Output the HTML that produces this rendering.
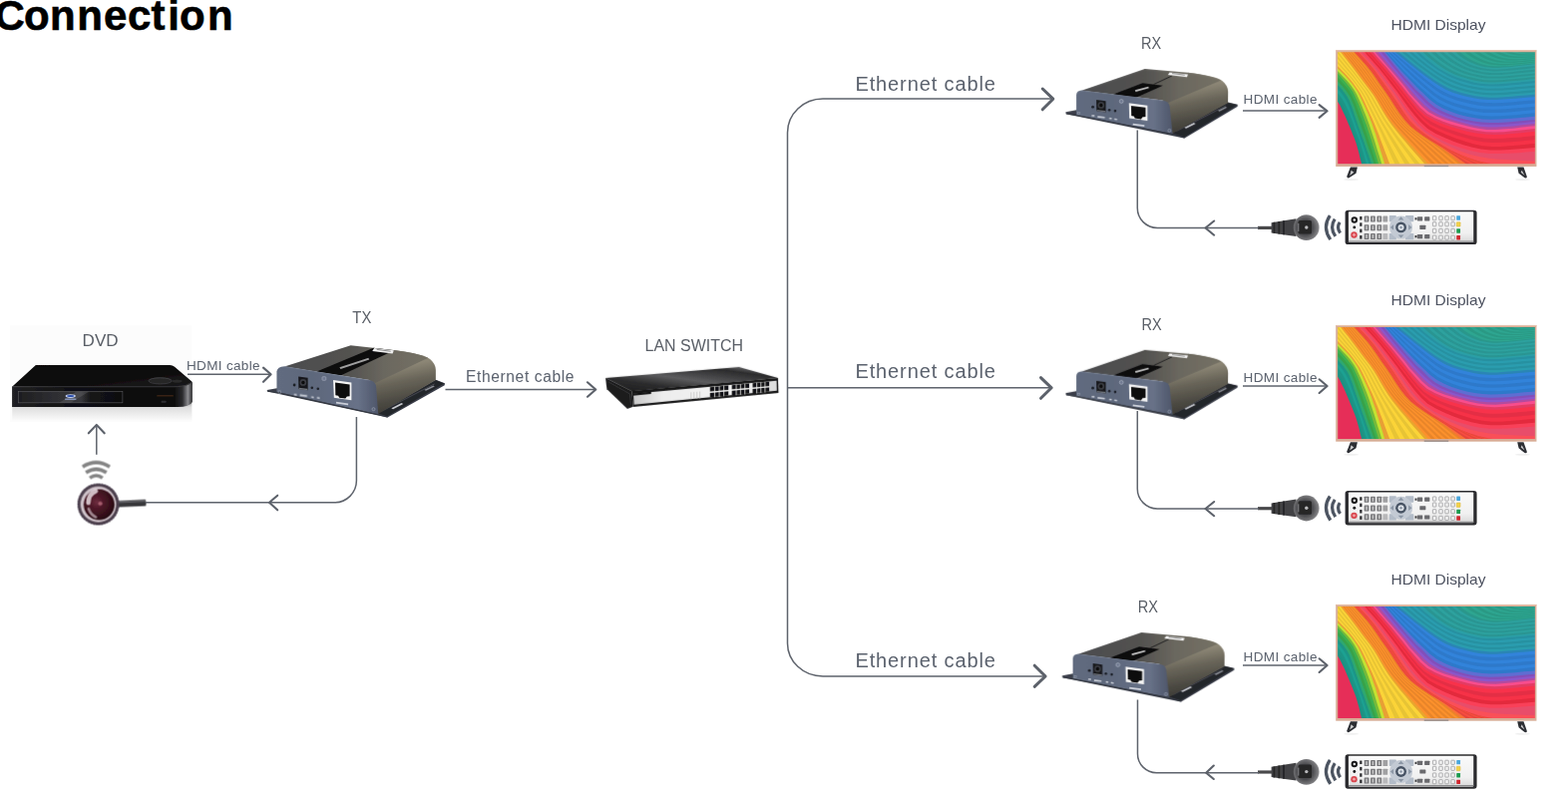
<!DOCTYPE html>
<html lang="en">
<head>
<meta charset="utf-8">
<title>Connection</title>
<style>
html,body{margin:0;padding:0;background:#fff;overflow:hidden}
body{width:1572px;height:800px;position:relative;font-family:"Liberation Sans",sans-serif}
svg{position:absolute;left:0;top:0;display:block}
.lbl{font-family:"Liberation Sans",sans-serif;fill:#5b626e}
.lbl.d{fill:#595e66}
.lbl.e{fill:#4d5260}
.ttl{font-family:"Liberation Sans",sans-serif;font-weight:bold;fill:#000}
.ln{fill:none;stroke:#5e636c;stroke-width:1.5;stroke-linecap:butt;stroke-linejoin:round}
.ah{fill:none;stroke:#5c616a;stroke-width:2.1;stroke-linecap:round;stroke-linejoin:round}
.ah2{fill:none;stroke:#5c616a;stroke-width:3;stroke-linecap:round;stroke-linejoin:round}
</style>
</head>
<body>
<svg width="1572" height="800" viewBox="0 0 1572 800">
<defs>
<!-- ===== TV (local coords = px of 5.714x zoom; origin 1335,45) ===== -->
<linearGradient id="tvTeal" x1="0" y1="0" x2="0.35" y2="1">
  <stop offset="0" stop-color="#3cbfa2"/><stop offset="0.45" stop-color="#2cb1ab"/><stop offset="0.8" stop-color="#22a0b4"/><stop offset="1" stop-color="#1f8fbf"/>
</linearGradient>
<linearGradient id="tvBlue" x1="0" y1="0" x2="1" y2="0.6">
  <stop offset="0" stop-color="#2a55c8"/><stop offset="0.4" stop-color="#2a78d2"/><stop offset="1" stop-color="#2f93dc"/>
</linearGradient>
<linearGradient id="tvMag" x1="0" y1="0" x2="1" y2="0.5">
  <stop offset="0" stop-color="#d9307a"/><stop offset="0.45" stop-color="#b044b0"/><stop offset="1" stop-color="#9a58c4"/>
</linearGradient>
<linearGradient id="tvRed" x1="0" y1="0" x2="1" y2="1">
  <stop offset="0" stop-color="#ef3038"/><stop offset="0.45" stop-color="#f03352"/><stop offset="1" stop-color="#f4506f"/>
</linearGradient>
<linearGradient id="tvOr" x1="0" y1="0" x2="0.6" y2="1">
  <stop offset="0" stop-color="#f36a24"/><stop offset="0.5" stop-color="#f68a20"/><stop offset="1" stop-color="#f37422"/>
</linearGradient>
<linearGradient id="tvYl" x1="0" y1="0" x2="0.6" y2="1">
  <stop offset="0" stop-color="#f2b632"/><stop offset="0.5" stop-color="#f0cf30"/><stop offset="1" stop-color="#f3c22c"/>
</linearGradient>
<filter id="tvSoft" x="-5%" y="-5%" width="110%" height="110%"><feGaussianBlur stdDeviation="3"/></filter>
<clipPath id="tvClip"><rect x="35" y="42" width="1130" height="639"/></clipPath>
<g id="tv">
  <g transform="translate(1335 45) scale(0.175)">
    <!-- feet -->
    <path d="M108 700L88 752Q86 766 100 762L140 735L148 700Z" fill="#2c2e33"/>
    <path d="M112 718L104 748L128 730Z" fill="#fff" opacity=".75"/>
    <path d="M1064 700L1072 735L1106 762Q1122 766 1118 752L1100 700Z" fill="#2c2e33"/>
    <path d="M1090 718L1084 730L1106 748Z" fill="#fff" opacity=".75"/>
    <ellipse cx="112" cy="772" rx="42" ry="6" fill="#000" opacity=".06"/>
    <ellipse cx="1094" cy="772" rx="42" ry="6" fill="#000" opacity=".06"/>
    <!-- frame -->
    <rect x="24" y="30" width="1150" height="667" fill="#d8ad96"/>
    <rect x="24" y="30" width="1150" height="6" fill="#e6c0aa"/>
    <rect x="530" y="690" width="140" height="8" fill="#9a8f8c"/>
    <!-- screen -->
    <g clip-path="url(#tvClip)">
      <g filter="url(#tvSoft)">
      <rect x="35" y="42" width="1130" height="643" fill="#e62e58"/>
      <path d="M-40 240L-24 257L-8 274L7 290L22 308L36 327L48 346L58 367L68 388L78 409L87 430L96 451L105 473L114 494L122 515L131 537L139 559L146 581L152 603L158 625L163 648L169 670L174 693L179 715L185 738L190 760L1260 800L1260 -50L-60 -50Z" fill="#1c9183"/>
      <path d="M-40 218L-24 235L-7 253L10 270L26 289L41 308L54 328L66 349L76 371L86 393L95 415L105 437L113 460L122 483L131 505L140 528L148 550L155 573L162 597L169 620L175 643L182 666L188 690L194 713L200 737L206 760L1260 800L1260 -50L-60 -50Z" fill="#1d9586"/>
      <path d="M-40 195L-23 214L-5 232L12 250L29 269L45 288L60 309L73 331L84 353L94 376L104 400L113 423L122 447L130 471L139 495L148 518L157 542L165 566L172 590L180 614L187 639L194 663L202 687L209 711L216 736L222 760L1260 800L1260 -50L-60 -50Z" fill="#1fa192"/>
      <path d="M-40 172L-22 192L-4 211L14 230L32 250L50 269L66 290L80 312L93 336L103 360L112 385L121 410L130 434L139 459L148 484L157 509L165 534L174 559L183 584L191 609L199 634L207 659L216 684L224 709L231 735L239 760L1260 800L1260 -50L-60 -50Z" fill="#1d9586"/>
      <path d="M-40 150L-21 170L-2 190L17 210L35 230L54 250L72 271L88 294L101 318L111 344L121 369L129 396L138 422L147 448L156 474L165 500L174 526L184 552L193 578L202 604L211 629L220 655L229 681L238 708L247 734L255 760L1260 800L1260 -50L-60 -50Z" fill="#2ea870"/>
      <path d="M-40 128L-20 149L-1 170L19 191L38 212L58 233L76 254L93 277L108 302L119 328L130 354L139 381L149 408L158 435L168 462L177 489L187 516L196 543L205 570L214 597L224 624L233 651L242 678L251 705L259 733L267 760L1260 800L1260 -50L-60 -50Z" fill="#38a249"/>
      <path d="M-40 107L-20 128L1 150L21 171L41 193L61 215L81 237L99 260L115 285L127 312L139 339L149 367L159 395L170 422L180 450L189 478L199 506L208 534L218 562L227 590L236 619L245 647L254 675L263 703L272 732L280 760L1260 800L1260 -50L-60 -50Z" fill="#3cb04f"/>
      <path d="M-40 85L-19 107L2 130L23 152L44 174L65 197L85 220L104 244L122 268L135 296L148 324L159 352L170 381L181 410L191 438L202 467L211 496L221 526L230 555L239 584L248 613L257 642L266 672L275 701L284 730L292 760L1260 800L1260 -50L-60 -50Z" fill="#76b93b"/>
      <path d="M-40 70L-18 93L3 116L25 139L46 162L68 184L90 207L110 232L128 257L144 284L157 313L170 342L182 371L194 400L205 429L216 459L226 489L236 519L246 549L255 579L264 609L274 639L283 669L292 699L300 730L308 760L1260 800L1260 -50L-60 -50Z" fill="#c4e230"/>
      <path d="M-40 55L-18 79L4 102L26 126L49 149L72 172L94 195L115 220L134 246L152 273L166 302L180 331L194 361L207 390L219 420L231 451L241 481L252 512L261 543L271 574L280 604L290 635L299 666L308 697L317 729L325 760L1260 800L1260 -50L-60 -50Z" fill="#e89f34"/>
      <path d="M-35 44L-13 69L9 94L32 119L55 143L78 166L101 191L122 217L141 244L160 271L176 301L190 330L204 361L218 391L232 421L245 452L257 482L270 513L281 544L293 575L304 606L316 637L327 667L339 698L350 729L361 760L1260 800L1260 -50L-60 -50Z" fill="#fbd438"/>
      <path d="M-30 34L-8 60L15 86L38 111L61 136L84 161L107 187L128 213L149 241L168 269L185 299L200 330L215 360L230 391L245 422L259 453L274 484L288 514L301 545L315 576L329 607L342 638L356 668L369 699L383 730L396 760L1260 800L1260 -50L-60 -50Z" fill="#e7c434"/>
      <path d="M-25 23L-2 50L20 77L43 104L66 130L90 156L113 183L135 210L156 239L176 267L194 297L210 329L226 360L242 392L258 423L274 454L290 485L305 516L321 547L337 577L353 608L368 639L384 669L400 700L416 730L432 760L1260 800L1260 -50L-60 -50Z" fill="#fbd438"/>
      <path d="M-20 12L3 41L25 69L49 96L72 124L96 151L119 178L142 207L163 236L185 265L203 296L220 328L237 360L254 392L271 424L288 455L306 486L323 517L341 548L359 579L377 609L395 640L412 670L430 701L449 731L468 760L1260 800L1260 -50L-60 -50Z" fill="#e7c434"/>
      <path d="M-15 2L8 31L31 60L54 89L78 117L102 146L126 174L148 204L171 234L193 263L213 294L230 327L248 360L265 393L283 425L302 457L322 488L341 519L361 549L381 580L401 611L421 641L441 671L461 702L482 731L503 760L1260 800L1260 -50L-60 -50Z" fill="#fbd438"/>
      <path d="M-10 -9L13 22L36 52L60 82L84 111L108 140L132 170L155 200L178 231L201 261L222 293L240 326L259 360L277 393L296 426L317 458L338 489L359 520L381 551L403 581L425 612L447 642L469 672L492 702L515 731L539 760L1260 800L1260 -50L-60 -50Z" fill="#e7c434"/>
      <path d="M-5 -19L18 12L41 43L65 74L90 105L114 135L138 166L162 197L185 229L209 259L231 291L251 325L269 359L289 393L309 427L331 459L354 490L377 521L401 552L425 583L449 613L473 643L498 673L522 703L548 732L574 760L1260 800L1260 -50L-60 -50Z" fill="#fbd438"/>
      <path d="M0 -30L23 3L47 35L71 67L96 98L120 130L144 162L168 194L192 226L217 258L240 290L261 324L280 359L301 394L322 427L345 460L370 492L395 523L421 553L447 584L473 614L500 644L526 674L553 704L581 732L610 760L1260 800L1260 -50Z" fill="#e8a52f"/>
      <path d="M7 -30L30 3L54 36L79 68L105 100L130 132L154 164L178 197L203 230L227 262L251 295L272 330L292 365L313 400L336 433L361 465L387 496L413 527L440 557L467 587L495 618L522 648L549 677L577 707L607 735L636 763L1260 800L1260 -50Z" fill="#fc912d"/>
      <path d="M13 -30L37 3L62 37L88 69L114 101L139 134L164 167L188 200L213 233L238 266L262 300L283 335L304 371L326 406L350 439L376 470L404 501L432 531L460 561L488 591L516 621L544 651L573 681L602 710L632 738L663 765L1260 800L1260 -50Z" fill="#e88529"/>
      <path d="M20 -30L45 4L70 37L96 70L123 102L149 135L174 169L198 203L223 237L248 270L272 305L294 341L316 377L339 411L365 444L392 475L421 505L450 535L479 565L508 595L537 625L567 654L596 684L627 713L658 740L689 768L1260 800L1260 -50Z" fill="#fc912d"/>
      <path d="M26 -30L52 4L77 38L105 71L132 104L158 137L184 171L208 206L234 241L259 275L283 310L305 346L328 382L352 417L379 450L407 481L437 510L468 539L498 568L529 598L559 628L589 658L620 687L651 715L683 743L715 771L1260 800L1260 -50Z" fill="#e88529"/>
      <path d="M33 -30L59 5L85 39L113 72L141 105L168 139L193 174L218 209L244 244L269 279L293 315L316 352L339 388L365 423L393 455L423 486L454 515L486 543L518 572L549 602L580 632L611 661L643 690L676 718L709 746L742 774L1260 800L1260 -50Z" fill="#fc912d"/>
      <path d="M39 -30L66 5L93 40L121 73L150 106L177 141L203 176L228 212L254 248L280 283L304 320L327 357L351 394L377 429L407 461L438 491L471 519L504 547L537 576L569 605L601 635L634 665L667 693L700 721L734 748L768 776L1260 800L1260 -50Z" fill="#e88529"/>
      <path d="M46 -30L73 5L101 40L130 74L159 108L187 143L213 179L238 215L264 251L290 288L315 325L338 363L363 400L390 435L421 467L454 496L488 524L522 551L556 580L590 609L623 639L656 668L690 696L725 724L760 751L795 779L1260 800L1260 -50Z" fill="#fc912d"/>
      <path d="M52 -30L80 6L108 41L138 75L168 109L196 144L223 181L248 218L275 255L301 292L325 330L349 368L375 406L403 441L435 472L469 501L505 528L541 555L576 583L610 613L644 642L678 672L714 699L749 727L786 754L821 782L1260 800L1260 -50Z" fill="#e88529"/>
      <path d="M59 -30L87 6L116 42L146 76L177 110L206 146L232 184L258 221L285 259L311 296L336 335L360 374L387 411L416 447L449 478L485 506L522 533L559 559L595 587L630 616L665 646L701 675L737 703L774 729L811 756L847 785L1260 800L1260 -50Z" fill="#fc912d"/>
      <path d="M65 -30L94 7L124 43L155 77L186 112L215 148L242 186L268 224L295 262L322 301L347 340L371 379L398 417L429 453L463 483L500 511L539 538L577 563L615 591L651 620L687 649L723 678L761 706L799 732L837 759L874 787L1260 800L1260 -50Z" fill="#e88529"/>
      <path d="M72 -30L101 7L131 43L163 78L195 113L225 150L252 188L278 227L306 266L332 305L357 345L383 385L410 423L441 458L477 489L516 516L555 542L595 568L634 594L671 623L708 653L745 682L784 709L823 735L862 762L900 790L1260 800L1260 -50Z" fill="#fa6f37"/>
      <path d="M75 -30L104 8L135 45L168 81L200 117L230 154L258 194L285 234L313 273L340 313L366 354L393 394L422 432L455 467L493 497L532 525L573 551L614 576L655 601L694 629L733 656L772 683L813 708L854 733L894 758L934 784L1260 800L1260 -50Z" fill="#e4473c"/>
      <path d="M77 -30L108 9L139 47L172 83L205 120L236 159L264 199L292 240L321 280L348 321L375 362L404 402L435 440L469 475L508 506L549 533L591 559L633 583L675 608L717 634L757 660L799 685L841 708L884 731L927 754L968 779L1260 800L1260 -50Z" fill="#f84d40"/>
      <path d="M80 -30L111 10L143 49L177 86L210 123L242 163L271 204L299 246L328 287L356 329L384 371L414 411L447 449L483 483L523 514L565 542L608 567L652 591L696 615L739 639L782 663L825 686L869 708L914 729L959 750L1002 774L1260 800L1260 -50Z" fill="#e4473c"/>
      <path d="M82 -30L114 11L147 50L182 88L216 127L247 167L277 209L306 252L336 294L364 337L393 379L424 420L459 457L497 492L538 522L581 550L626 576L671 599L717 622L762 645L807 667L852 688L898 708L944 727L991 746L1036 768L1260 800L1260 -50Z" fill="#f84d40"/>
      <path d="M85 -30L117 12L151 52L186 91L221 130L253 172L283 215L313 258L343 301L372 345L402 388L435 429L471 466L511 500L553 531L598 559L644 584L690 607L738 629L784 650L831 670L878 689L926 707L975 725L1023 742L1070 762L1260 800L1260 -50Z" fill="#e4473c"/>
      <path d="M88 -30L120 12L155 54L191 93L226 134L259 176L290 220L320 264L350 308L380 353L411 397L445 438L484 474L525 508L569 539L614 567L661 593L709 615L758 636L807 655L856 674L905 691L955 707L1005 722L1055 739L1104 757L1260 800L1260 -50Z" fill="#f84d40"/>
      <path d="M90 -30L124 13L159 55L196 96L231 137L264 181L296 225L327 270L358 315L388 361L420 405L456 446L496 483L539 516L584 547L631 575L679 601L728 623L779 643L830 661L881 677L932 692L983 707L1035 720L1087 735L1138 752L1260 800L1260 -50Z" fill="#e4473c"/>
      <path d="M93 -30L127 14L162 57L200 98L236 140L270 185L302 231L334 276L365 322L397 369L429 414L466 455L508 492L553 525L599 555L647 584L696 610L748 631L800 650L852 666L905 681L958 694L1012 706L1066 718L1119 731L1172 746L1260 800L1260 -50Z" fill="#f84d40"/>
      <path d="M95 -30L130 15L166 59L205 101L242 144L276 189L308 236L341 282L373 329L405 377L438 422L477 464L520 500L567 533L614 564L663 592L714 618L767 639L820 657L875 671L930 684L985 696L1040 706L1096 716L1151 727L1206 740L1260 800L1260 -50Z" fill="#e4473c"/>
      <path d="M98 -30L133 16L170 60L210 103L247 147L281 194L315 241L348 288L380 336L413 385L447 431L487 473L533 509L580 541L629 572L680 601L732 626L786 647L841 664L898 677L954 688L1012 697L1069 706L1126 714L1183 723L1240 735L1260 -50Z" fill="#fa5059"/>
      <path d="M110 -30L144 15L181 59L219 101L256 144L290 190L324 236L358 282L390 329L421 376L455 422L494 464L537 501L584 532L633 561L684 586L736 608L790 627L845 640L901 650L958 656L1014 659L1071 662L1127 664L1184 667L1240 670L1260 -50Z" fill="#e84d6a"/>
      <path d="M122 -30L156 14L191 58L229 99L265 141L300 186L333 230L367 275L399 321L430 367L463 412L500 454L541 493L587 524L637 549L688 572L741 590L795 606L849 617L905 623L961 623L1017 621L1073 618L1128 613L1184 610L1240 606L1260 -50Z" fill="#f94059"/>
      <path d="M134 -30L167 14L202 56L239 97L275 139L309 182L342 225L376 269L408 314L440 358L474 402L510 443L550 480L597 508L647 532L698 553L750 571L802 586L856 597L911 603L966 603L1021 600L1076 596L1130 591L1185 587L1240 583L1260 -50Z" fill="#e32a3c"/>
      <path d="M146 -30L179 13L213 55L249 95L285 136L318 178L352 220L384 263L417 306L450 349L484 391L519 432L560 467L608 493L657 514L707 534L759 551L810 567L863 578L917 583L971 583L1025 579L1079 574L1132 569L1186 564L1240 560L1260 -50Z" fill="#f63046"/>
      <path d="M154 -30L186 12L220 54L255 93L290 133L324 175L357 216L390 258L423 300L455 343L489 384L525 422L567 455L615 478L664 499L714 517L765 532L816 546L868 556L922 560L975 559L1028 556L1081 551L1134 546L1187 541L1240 537L1260 -50Z" fill="#e42f45"/>
      <path d="M162 -30L194 12L227 52L262 92L296 131L330 172L363 213L395 254L428 295L460 336L494 376L531 413L575 442L622 464L671 483L721 499L771 514L822 526L874 534L926 537L979 536L1031 532L1083 528L1135 523L1188 518L1240 513L1260 -50Z" fill="#f8334b"/>
      <path d="M170 -30L201 11L234 51L268 90L302 129L335 169L368 209L401 249L433 289L465 330L498 369L537 403L582 429L629 450L678 467L727 482L777 495L828 505L879 512L931 514L983 513L1034 509L1086 504L1137 499L1189 495L1240 490L1260 -50Z" fill="#e43b64"/>
      <path d="M181 -30L212 10L245 50L278 88L312 126L345 165L377 204L410 244L441 284L474 322L508 360L547 394L591 419L638 439L686 455L735 469L784 482L834 492L885 498L936 500L987 498L1037 493L1088 488L1139 483L1189 478L1240 472L1260 -50Z" fill="#f84d8d"/>
      <path d="M192 -30L223 9L255 48L288 86L321 124L354 162L387 200L419 238L449 278L484 315L518 351L556 384L600 409L646 427L694 442L743 456L791 469L840 479L890 485L940 486L990 482L1040 478L1090 472L1140 466L1190 461L1240 455L1260 -50Z" fill="#b34b9e"/>
      <path d="M209 -30L240 9L271 47L303 85L334 122L367 160L399 197L431 234L462 272L496 308L530 343L568 375L611 399L657 418L703 433L751 446L799 458L847 467L896 472L946 472L995 469L1044 465L1093 459L1142 454L1191 449L1240 443L1260 -50Z" fill="#8c56ca"/>
      <path d="M226 -30L256 8L286 46L317 83L348 121L379 157L411 194L443 230L475 266L509 301L543 335L580 366L622 390L667 409L713 424L759 437L807 447L854 455L903 459L951 459L999 456L1047 452L1096 447L1144 442L1192 437L1240 432L1260 -50Z" fill="#8250ba"/>
      <path d="M243 -30L272 7L302 44L331 82L361 119L392 155L423 191L455 226L487 261L522 293L555 327L592 357L634 380L677 399L722 415L768 427L814 437L861 443L909 446L956 445L1004 443L1051 439L1098 434L1146 430L1193 426L1240 420L1260 -50Z" fill="#5f6dd2"/>
      <path d="M248 -30L278 6L308 42L338 77L368 113L399 148L431 182L463 216L496 250L530 281L564 314L600 342L642 365L685 383L729 398L774 410L820 419L867 425L913 427L960 426L1007 423L1054 420L1100 415L1147 411L1194 407L1240 401L1260 -50Z" fill="#2d79ca"/>
      <path d="M253 -30L283 4L314 39L344 73L375 107L406 141L438 174L471 206L504 239L538 269L572 300L609 328L650 349L692 366L736 381L781 392L826 401L872 406L918 408L964 407L1010 404L1056 401L1102 396L1148 392L1194 388L1240 383L1260 -50Z" fill="#3183da"/>
      <path d="M258 -30L289 3L320 36L351 69L382 101L414 134L446 165L479 197L512 228L546 257L580 287L617 313L658 333L700 350L743 363L788 374L832 383L877 388L923 389L968 388L1014 385L1059 381L1104 377L1150 373L1195 369L1240 364L1260 -50Z" fill="#2d79ca"/>
      <path d="M262 -30L294 1L326 33L357 64L389 96L421 127L454 157L487 187L520 217L554 245L589 274L626 298L666 318L708 334L751 346L794 357L838 365L883 369L928 370L972 369L1017 366L1062 362L1106 358L1151 354L1195 351L1240 346L1260 -50Z" fill="#3183da"/>
      <path d="M267 -30L299 0L332 30L364 60L396 90L428 119L461 148L494 177L528 206L562 233L597 260L634 284L674 302L715 317L758 329L801 339L844 347L888 351L932 351L976 350L1020 347L1064 343L1108 339L1152 335L1196 332L1240 327L1260 -50Z" fill="#2d79ca"/>
      <path d="M272 -30L305 -2L338 27L370 55L403 84L435 112L469 140L502 167L536 195L570 221L605 247L643 269L682 287L723 301L765 312L807 322L850 329L894 332L937 333L980 331L1024 328L1067 324L1110 320L1154 317L1197 313L1240 309L1260 -50Z" fill="#3183da"/>
      <path d="M277 -30L310 -3L343 24L377 51L410 78L443 105L476 132L510 158L544 184L578 209L614 233L651 254L690 271L731 284L772 295L814 304L856 311L899 314L942 314L984 312L1027 309L1070 305L1112 301L1155 298L1197 294L1240 290L1260 -50Z" fill="#2b85b5"/>
      <path d="M300 -30L332 -3L364 24L396 51L428 77L460 104L493 130L526 155L559 180L593 204L628 226L665 246L703 262L743 274L784 284L824 293L866 298L907 301L949 301L991 298L1032 295L1074 292L1115 288L1157 284L1199 281L1240 277L1260 -50Z" fill="#2c9daf"/>
      <path d="M324 -30L354 -3L384 24L415 51L446 77L477 103L509 128L542 152L574 176L608 199L643 220L679 238L717 253L756 264L795 274L835 281L875 286L916 288L956 287L997 285L1038 282L1078 278L1119 275L1159 271L1200 268L1240 264L1260 -50Z" fill="#2891a1"/>
      <path d="M347 -30L376 -3L404 24L434 50L464 76L494 101L526 126L557 149L590 172L623 193L657 213L693 230L730 243L768 254L806 263L845 270L885 274L924 275L964 274L1003 272L1043 269L1082 265L1122 261L1161 258L1201 255L1240 251L1260 -50Z" fill="#2c9daf"/>
      <path d="M370 -30L397 -3L425 24L453 50L482 76L512 100L542 124L573 146L605 168L638 188L672 206L707 221L743 234L780 244L818 253L856 258L894 262L933 262L971 261L1010 258L1048 255L1086 252L1125 248L1163 245L1202 241L1240 237L1260 -50Z" fill="#2891a1"/>
      <path d="M393 -30L419 -3L445 24L472 50L500 75L529 99L558 122L589 144L620 164L653 183L686 199L721 213L756 225L793 234L829 242L866 247L904 250L941 249L979 248L1016 245L1053 242L1091 238L1128 235L1165 231L1203 228L1240 224L1260 -50Z" fill="#2c9daf"/>
      <path d="M417 -30L441 -3L465 24L491 50L518 74L546 98L575 120L605 141L636 160L667 178L701 193L735 205L770 215L805 225L841 231L877 236L913 237L950 237L986 235L1022 232L1059 228L1095 225L1131 221L1167 218L1204 215L1240 211L1260 -50Z" fill="#2891a1"/>
      <path d="M440 -30L463 -3L485 24L510 50L536 74L563 96L591 118L620 138L651 156L682 172L715 186L749 197L783 206L817 215L852 221L887 224L923 225L958 224L993 221L1029 218L1064 215L1099 212L1134 208L1170 205L1205 202L1240 198L1260 -50Z" fill="#2c9fa6"/>
      <path d="M462 -30L485 -4L507 22L530 47L556 71L582 92L609 113L638 133L667 150L698 166L730 178L763 189L796 198L829 205L863 211L898 214L932 214L966 213L1000 210L1035 207L1069 204L1103 201L1137 197L1172 194L1206 191L1240 188L1260 -50Z" fill="#299592"/>
      <path d="M484 -30L506 -5L528 20L551 45L575 67L601 89L628 109L655 127L684 144L714 159L745 171L777 181L809 189L842 196L875 201L908 203L941 203L974 202L1008 199L1041 196L1074 193L1107 190L1140 186L1174 183L1207 180L1240 177L1260 -50Z" fill="#2da19e"/>
      <path d="M507 -30L528 -6L549 19L571 42L595 64L620 85L646 104L673 122L701 138L730 152L760 164L791 173L822 180L854 187L886 191L918 192L950 192L983 191L1015 188L1047 185L1079 182L1111 179L1143 175L1176 173L1208 170L1240 167L1260 -50Z" fill="#299592"/>
      <path d="M529 -30L550 -7L571 17L592 39L615 61L639 81L664 100L690 117L717 132L746 145L775 156L805 165L835 172L866 177L897 181L928 182L960 182L991 180L1022 177L1053 174L1084 171L1115 168L1146 165L1178 162L1209 159L1240 157L1260 -50Z" fill="#2da19e"/>
      <path d="M551 -30L572 -8L592 15L613 37L635 57L658 77L682 95L708 111L734 126L761 139L790 149L819 157L849 163L878 168L908 171L939 171L969 171L999 169L1029 166L1059 163L1089 160L1119 157L1150 154L1180 151L1210 149L1240 146L1260 -50Z" fill="#299592"/>
      <path d="M573 -30L593 -9L613 13L633 34L654 54L677 73L700 90L725 106L751 120L777 132L805 142L833 149L862 155L891 159L920 161L949 161L978 160L1007 158L1036 155L1065 152L1094 149L1123 146L1153 143L1182 140L1211 138L1240 136L1260 -50Z" fill="#2da19e"/>
      <path d="M596 -30L615 -10L634 11L654 31L674 51L696 69L718 86L742 100L767 114L793 125L820 134L847 141L875 146L903 149L931 151L959 150L987 149L1015 147L1043 144L1071 141L1099 138L1128 135L1156 132L1184 130L1212 128L1240 126L1260 -50Z" fill="#299592"/>
      <path d="M618 -30L637 -11L656 9L674 29L694 48L714 65L736 81L760 95L784 108L809 118L835 127L861 133L888 137L915 140L942 141L969 140L996 138L1023 136L1051 133L1078 130L1105 127L1132 124L1159 121L1186 119L1213 117L1240 115L1260 -50Z" fill="#2da19e"/>
      <path d="M640 -30L659 -12L677 7L695 26L714 44L733 61L755 77L777 90L801 102L825 112L850 120L875 125L901 129L927 131L953 131L980 129L1006 127L1032 125L1058 122L1084 119L1110 116L1136 113L1162 110L1188 108L1214 107L1240 105L1260 -50Z" fill="#2a978b"/>
      <path d="M666 -30L684 -13L701 5L719 23L737 41L755 57L776 72L797 84L820 95L843 105L867 113L891 118L916 122L941 123L966 123L991 122L1016 121L1041 118L1066 116L1090 113L1115 110L1140 107L1165 105L1190 103L1215 101L1240 100L1260 -50Z" fill="#2ea590"/>
      <path d="M691 -30L709 -14L726 3L742 20L759 37L778 53L797 66L818 78L839 89L861 98L884 106L907 111L931 114L954 116L978 116L1002 115L1026 114L1050 112L1074 110L1097 107L1121 104L1145 102L1169 99L1192 97L1216 96L1240 94L1260 -50Z" fill="#2a9984"/>
      <path d="M717 -30L734 -15L750 2L766 18L782 33L800 48L818 61L838 73L858 83L879 92L901 99L923 104L945 107L968 109L991 109L1013 109L1036 107L1059 105L1081 103L1104 101L1127 99L1149 96L1172 94L1195 92L1217 90L1240 89L1260 -50Z" fill="#2ea590"/>
      <path d="M743 -30L759 -15L774 0L789 15L805 30L822 44L839 56L858 67L877 77L897 85L918 92L939 97L960 100L982 102L1003 102L1025 102L1046 101L1068 99L1089 97L1111 95L1132 93L1154 90L1175 88L1197 86L1218 85L1240 84L1260 -50Z" fill="#2a9984"/>
      <path d="M769 -30L784 -16L798 -2L813 12L828 26L844 39L860 51L878 61L896 71L915 79L935 85L955 90L975 93L995 95L1016 95L1036 95L1056 94L1077 93L1097 91L1118 89L1138 87L1158 85L1179 83L1199 81L1220 80L1240 78L1260 -50Z" fill="#2ea590"/>
      <path d="M794 -30L809 -17L823 -4L837 9L851 22L866 35L882 46L898 56L916 64L933 72L952 78L970 83L990 86L1009 88L1028 88L1047 88L1067 87L1086 86L1105 85L1124 83L1144 81L1163 79L1182 77L1201 76L1221 74L1240 73L1260 -50Z" fill="#2a9984"/>
      <path d="M820 -30L834 -18L847 -6L860 7L874 19L888 30L903 41L918 50L935 58L951 65L969 71L986 75L1004 78L1022 80L1040 81L1059 81L1077 81L1095 80L1113 79L1131 77L1149 75L1167 74L1186 72L1204 70L1222 69L1240 68L1260 -50Z" fill="#2ea590"/>
      <path d="M846 -30L859 -19L871 -8L884 4L897 15L910 26L924 36L939 44L954 52L969 59L986 64L1002 68L1019 71L1036 73L1053 74L1070 74L1087 74L1104 73L1121 72L1138 71L1155 70L1172 68L1189 66L1206 65L1223 63L1240 62L1260 -50Z" fill="#2a9984"/>
      <path d="M871 -30L884 -20L896 -9L907 1L920 11L932 21L945 30L959 38L973 46L988 52L1003 57L1018 61L1034 64L1050 66L1065 67L1081 67L1097 67L1113 67L1129 66L1145 65L1161 64L1176 62L1192 61L1208 59L1224 58L1240 57L1260 -50Z" fill="#2ea590"/>
      <path d="M897 -30L909 -21L920 -11L931 -2L942 8L954 17L966 25L979 33L992 40L1006 46L1020 50L1034 54L1048 57L1063 59L1078 60L1093 60L1107 60L1122 60L1137 60L1152 59L1166 58L1181 57L1196 55L1210 54L1225 52L1240 51L1260 -50Z" fill="#2a9984"/>
      <path d="M923 -30L934 -22L944 -13L955 -4L965 4L976 12L987 20L999 27L1011 33L1024 39L1037 43L1050 47L1063 50L1077 52L1090 53L1104 53L1117 54L1131 54L1145 54L1158 53L1172 52L1186 51L1199 50L1213 48L1226 47L1240 46L1260 -50Z" fill="#2ea590"/>
      <path d="M949 -30L959 -23L968 -15L978 -7L988 0L998 8L1009 15L1019 21L1030 27L1042 32L1054 37L1066 40L1078 43L1090 44L1103 46L1115 47L1128 47L1140 47L1153 48L1165 47L1178 46L1190 45L1203 44L1215 43L1228 42L1240 41L1260 -50Z" fill="#2a9984"/>
      <path d="M974 -30L984 -24L993 -17L1002 -10L1011 -3L1020 3L1030 10L1039 16L1050 21L1060 26L1071 30L1082 33L1093 35L1104 37L1115 39L1126 40L1138 40L1149 41L1161 41L1172 41L1183 41L1195 40L1206 39L1217 37L1229 36L1240 35L1260 -50Z" fill="#2ea590"/>
      <path d="M1000 -30L1009 -24L1017 -19L1025 -13L1034 -7L1042 -1L1051 5L1060 10L1069 15L1078 19L1088 23L1097 26L1107 28L1117 30L1128 32L1138 33L1148 34L1158 35L1168 35L1179 35L1189 35L1199 34L1209 33L1220 32L1230 31L1240 30L1260 -50Z" fill="#2b9a83"/>
      </g>
    </g>
  </g>
</g>

<!-- ===== RX box (local coords = px of 7.86x zoom; origin 1060,50) ===== -->
<linearGradient id="bxFront" x1="0" y1="0" x2="1" y2="0">
  <stop offset="0" stop-color="#626c80"/><stop offset="0.35" stop-color="#5d677b"/><stop offset="0.8" stop-color="#687288"/><stop offset="1" stop-color="#4e566a"/>
</linearGradient>
<linearGradient id="bxTop" x1="0" y1="0" x2="1" y2="0">
  <stop offset="0" stop-color="#4c4d50"/><stop offset="0.45" stop-color="#535250"/><stop offset="0.7" stop-color="#6b685f"/><stop offset="1" stop-color="#757165"/>
</linearGradient>
<linearGradient id="bxSide" x1="0.55" y1="0" x2="0.75" y2="1">
  <stop offset="0" stop-color="#7d7869"/><stop offset="0.22" stop-color="#8d8776"/><stop offset="0.45" stop-color="#6a665a"/><stop offset="0.75" stop-color="#4a4841"/><stop offset="1" stop-color="#35342f"/>
</linearGradient>
<g id="rx">
  <g transform="translate(1060 50) scale(0.12723)">
    <!-- flange -->
    <path d="M66 489L150 474L908 650L1345 414L1422 431L1420 446L1002 697L70 505Z" fill="#3a3e49"/>
    <path d="M908 656L1345 416L1416 433L1000 686Z" fill="#24262b"/>
    <path d="M1000 612L1075 574L1090 582L1015 620Z" fill="#c9cbd0"/>
    <path d="M1265 478L1325 448L1338 455L1278 486Z" fill="#8a8d95"/>
    <path d="M940 640L1330 440" stroke="#50535c" stroke-width="6" fill="none"/>
    <!-- body: side + top -->
    <path d="M830 398L1030 180Q1250 205 1300 245Q1345 280 1346 330L1345 418L908 658Z" fill="url(#bxSide)"/>
    <path d="M190 320L690 150L1030 180Q1200 200 1290 240L870 420L830 398Z" fill="url(#bxTop)"/>
    <!-- black strip + logo -->
    <path d="M440 350L620 376L832 282L672 262Z" fill="#0c0c0d"/>
    <path d="M760 272L905 204" stroke="#1a1a1b" stroke-width="7" fill="none"/>
    <path d="M612 318L718 290L722 302L618 330Z" fill="#e8e8e8" opacity=".85"/>
    <path d="M885 178L1030 194L1022 214L872 198Z" fill="#f3f3f3"/>
    <path d="M905 186L1005 199" stroke="#555" stroke-width="5" fill="none"/>
    <!-- front face -->
    <path d="M150 511V356Q152 322 190 319L830 398Q876 404 886 444L909 660Z" fill="url(#bxFront)"/>
    <path d="M70 503L150 516L909 664L1002 693" stroke="#343842" stroke-width="7" fill="none"/>
    <path d="M192 322L830 401" stroke="#8791a6" stroke-width="4" fill="none" opacity=".6"/>
    <!-- RJ45 -->
    <path d="M565 420L711 438V558L568 540Z" fill="#f4f4f4"/>
    <path d="M582 441L696 455V528L672 530L660 546L612 540L604 524L584 520Z" fill="#0b0b0c"/>
    <!-- DC jack -->
    <path d="M308 394L382 403V492L310 483Z" fill="#17181b"/>
    <ellipse cx="345" cy="436" rx="26" ry="27" fill="#3c3e44"/>
    <ellipse cx="345" cy="436" rx="13" ry="14" fill="#0a0a0a"/>
    <path d="M312 472L380 480V492L312 483Z" fill="#70747c"/>
    <!-- LEDs / screws -->
    <circle cx="280" cy="450" r="11" fill="#1d2028"/>
    <circle cx="410" cy="474" r="10" fill="#1d2028"/>
    <circle cx="456" cy="481" r="10" fill="#1d2028"/>
    <circle cx="505" cy="405" r="15" fill="#6e7890" stroke="#c5cbd8" stroke-width="4"/>
    <circle cx="884" cy="636" r="12" fill="#596277" stroke="#aab1c0" stroke-width="4"/>
    <rect x="160" y="490" width="16" height="18" fill="none" stroke="#9aa1b0" stroke-width="4"/>
    <!-- tiny silk labels -->
    <g fill="#e4e7ee" opacity=".8">
      <rect x="272" y="512" width="22" height="12" transform="rotate(7 272 512)"/>
      <rect x="318" y="520" width="58" height="13" transform="rotate(7 318 520)"/>
      <rect x="410" y="534" width="20" height="12" transform="rotate(7 410 534)"/>
      <rect x="450" y="540" width="22" height="12" transform="rotate(7 450 540)"/>
      <rect x="596" y="580" width="92" height="14" transform="rotate(7 596 580)"/>
    </g>
  </g>
</g>
<!-- ===== TX box (local coords = px of 7.86x zoom; origin 260,330) ===== -->
<g id="tx">
  <g transform="translate(260 330) scale(0.12723)">
    <path d="M60 480L137 466L936 660L1390 398L1462 426L1460 442L1010 696L64 492Z" fill="#3a3e49"/>
    <path d="M936 664L1390 400L1456 428L1008 686Z" fill="#24262b"/>
    <path d="M1040 622L1120 582L1134 590L1054 630Z" fill="#c9cbd0"/>
    <path d="M1300 478L1370 444L1382 452L1312 486Z" fill="#8a8d95"/>
    <path d="M975 640L1380 432" stroke="#50535c" stroke-width="6" fill="none"/>
    <path d="M870 393L1060 165Q1290 195 1345 235Q1388 270 1390 320V400L936 668Z" fill="url(#bxSide)"/>
    <path d="M198 294L720 128L1060 165Q1240 185 1330 225L915 425L866 400Z" fill="url(#bxTop)"/>
    <path d="M452 334L644 364L1062 168L900 148Z" fill="#0c0c0d"/>
    <path d="M632 300L860 226L866 240L640 314Z" fill="#e0e0e0" opacity=".7"/>
    <path d="M905 150L1060 168L1050 192L890 172Z" fill="#f0f0f0"/>
    <path d="M925 160L1035 175" stroke="#555" stroke-width="5" fill="none"/>
    <path d="M137 494V335Q140 296 198 293L866 400Q912 408 920 446L937 670Z" fill="url(#bxFront)"/>
    <path d="M64 490L137 498L937 674L1010 693" stroke="#343842" stroke-width="7" fill="none"/>
    <path d="M200 296L866 403" stroke="#8791a6" stroke-width="4" fill="none" opacity=".6"/>
    <path d="M582 400L726 420V560L588 540Z" fill="#f4f4f4"/>
    <path d="M598 421L712 436V528L690 530L678 546L630 540L622 524L600 520Z" fill="#0b0b0c"/>
    <path d="M308 374L382 384V482L310 472Z" fill="#17181b"/>
    <ellipse cx="345" cy="420" rx="26" ry="27" fill="#3c3e44"/>
    <ellipse cx="345" cy="420" rx="13" ry="14" fill="#0a0a0a"/>
    <path d="M312 462L380 470V482L312 473Z" fill="#70747c"/>
    <circle cx="276" cy="440" r="11" fill="#1d2028"/>
    <circle cx="415" cy="462" r="10" fill="#1d2028"/>
    <circle cx="462" cy="470" r="10" fill="#1d2028"/>
    <rect x="495" y="375" width="30" height="28" rx="6" fill="#6e7890" stroke="#b5bccb" stroke-width="4"/>
    <circle cx="900" cy="630" r="12" fill="#596277" stroke="#aab1c0" stroke-width="4"/>
    <rect x="150" y="486" width="18" height="20" fill="none" stroke="#9aa1b0" stroke-width="4"/>
    <g fill="#e4e7ee" opacity=".8">
      <rect x="274" y="508" width="22" height="12" transform="rotate(8 274 508)"/>
      <rect x="320" y="512" width="58" height="13" transform="rotate(8 320 512)"/>
      <rect x="410" y="528" width="20" height="12" transform="rotate(8 410 528)"/>
      <rect x="455" y="534" width="22" height="12" transform="rotate(8 455 534)"/>
      <rect x="606" y="572" width="96" height="14" transform="rotate(8 606 572)"/>
    </g>
  </g>
</g>

<filter id="soft" x="-5%" y="-5%" width="110%" height="110%"><feGaussianBlur stdDeviation="0.45"/></filter>
<!-- ===== remote + IR receiver (row 1 absolute coords) ===== -->
<linearGradient id="rmBody" x1="0" y1="0" x2="0" y2="1">
  <stop offset="0" stop-color="#fafafa"/><stop offset="0.7" stop-color="#f0f0f0"/><stop offset="1" stop-color="#d8d8d8"/>
</linearGradient>
<radialGradient id="irHead" cx="0.45" cy="0.5" r="0.6">
  <stop offset="0" stop-color="#333335"/><stop offset="0.5" stop-color="#4c4c4f"/><stop offset="0.8" stop-color="#767679"/><stop offset="1" stop-color="#a4a4a6"/>
</radialGradient>
<g id="irset">
  <!-- IR receiver -->
  <path d="M1261 228.4H1275" stroke="#48494c" stroke-width="3.2" fill="none"/>
  <path d="M1274.6 223.2Q1286 221.3 1299.5 219.2V237Q1286 235 1274.6 233.4Z" fill="#434345"/>
  <path d="M1277.4 222.8V233.8M1282.3 222V234.6M1287 221.2V235.2" stroke="#252527" stroke-width="1.8" fill="none"/>
  <circle cx="1309.7" cy="228.2" r="12.9" fill="url(#irHead)"/>
  <rect x="1301.6" y="221" width="13.4" height="13.4" rx="1.5" fill="#252527"/>
  <circle cx="1309.8" cy="228" r="1.7" fill="#b9b9bb"/>
  <path d="M1301.8 224V232" stroke="#8a8a8c" stroke-width="1" fill="none"/>
  <!-- IR waves -->
  <g fill="none" stroke="#4d5562" stroke-width="3.2" stroke-linecap="butt">
    <path d="M1333.3 216.2Q1325.3 228 1333.8 240.2"/>
    <path d="M1338.2 219.6Q1332.6 228 1338.8 236.8"/>
    <path d="M1343.2 222.9Q1339.6 228 1343.6 233.6"/>
  </g>
  <!-- remote -->
  <g transform="translate(1250 195) scale(0.15903)">
    <rect x="620" y="99" width="830" height="216" rx="18" fill="#2b2b2d"/>
    <rect x="641" y="108" width="788" height="194" rx="5" fill="url(#rmBody)"/>
    <path d="M641 296H1429" stroke="#8a8a8c" stroke-width="8" fill="none"/>
    <!-- left column -->
    <circle cx="678" cy="160" r="20" fill="#151517"/><circle cx="678" cy="160" r="8" fill="#e8e8e8"/>
    <circle cx="678" cy="207" r="9" fill="#151517"/>
    <circle cx="676" cy="255" r="20" fill="#d8454d"/><circle cx="676" cy="255" r="9" fill="#f0a0a4"/>
    <g fill="#2c2c2e">
      <rect x="712" y="138" width="14" height="22"/><rect x="712" y="178" width="14" height="22"/>
      <rect x="712" y="218" width="14" height="22"/><rect x="712" y="258" width="14" height="22"/>
    </g>
    <!-- grey key grid -->
    <g fill="#77777a">
      <rect x="740" y="135" width="30" height="38" rx="3"/><rect x="780" y="135" width="30" height="38" rx="3"/><rect x="820" y="135" width="30" height="38" rx="3"/><rect x="858" y="135" width="30" height="38" rx="3" fill="#a0a0a2"/>
      <rect x="740" y="190" width="30" height="38" rx="3"/><rect x="780" y="190" width="30" height="38" rx="3"/><rect x="820" y="190" width="30" height="38" rx="3"/><rect x="858" y="190" width="30" height="38" rx="3" fill="#a0a0a2"/>
      <rect x="740" y="245" width="30" height="38" rx="3"/><rect x="780" y="245" width="30" height="38" rx="3"/><rect x="820" y="245" width="30" height="38" rx="3"/><rect x="858" y="245" width="30" height="38" rx="3" fill="#b8b8ba"/>
    </g>
    <g fill="#e6e6e6" opacity=".7">
      <rect x="750" y="142" width="10" height="24"/><rect x="790" y="142" width="10" height="24"/><rect x="830" y="142" width="10" height="24"/>
      <rect x="750" y="197" width="10" height="24"/><rect x="790" y="197" width="10" height="24"/><rect x="830" y="197" width="10" height="24"/>
      <rect x="750" y="252" width="10" height="24"/><rect x="790" y="252" width="10" height="24"/><rect x="830" y="252" width="10" height="24"/>
    </g>
    <!-- d-pad -->
    <g fill="#b3bcc8">
      <rect x="898" y="132" width="44" height="40" rx="4"/><rect x="1000" y="132" width="52" height="40" rx="4"/>
      <rect x="898" y="245" width="44" height="40" rx="4"/><rect x="1000" y="245" width="52" height="40" rx="4"/>
    </g>
    <circle cx="972" cy="207" r="72" fill="#c3cad4"/>
    <path d="M972 140L990 160H954ZM972 274L954 254H990ZM905 207L925 189V225ZM1040 207L1020 225V189Z" fill="#8c97a6"/>
    <circle cx="972" cy="207" r="34" fill="#475264"/>
    <circle cx="972" cy="207" r="19" fill="#dfe4ea"/>
    <circle cx="972" cy="207" r="8" fill="#8a94a4"/>
    <!-- dark keys right of d-pad -->
    <g fill="#6b6b6e">
      <rect x="1075" y="140" width="33" height="26" rx="3"/><rect x="1120" y="140" width="33" height="26" rx="3"/>
      <rect x="1090" y="194" width="38" height="26" rx="3"/>
      <rect x="1075" y="252" width="33" height="26" rx="3"/><rect x="1120" y="252" width="33" height="26" rx="3"/>
    </g>
    <g fill="#3a3a3c">
      <rect x="1060" y="146" width="12" height="14"/><rect x="1060" y="258" width="12" height="14"/>
    </g>
    <!-- light key grid -->
    <g fill="#f2f2f2" stroke="#9c9c9f" stroke-width="5">
      <rect x="1172" y="136" width="22" height="26" rx="3"/><rect x="1212" y="136" width="22" height="26" rx="3"/><rect x="1250" y="136" width="22" height="26" rx="3"/><rect x="1288" y="136" width="22" height="26" rx="3"/>
      <rect x="1172" y="174" width="22" height="26" rx="3"/><rect x="1212" y="174" width="22" height="26" rx="3"/><rect x="1250" y="174" width="22" height="26" rx="3"/><rect x="1288" y="174" width="22" height="26" rx="3"/>
      <rect x="1172" y="216" width="22" height="26" rx="3"/><rect x="1212" y="216" width="22" height="26" rx="3"/><rect x="1250" y="216" width="22" height="26" rx="3"/><rect x="1288" y="216" width="22" height="26" rx="3"/>
      <rect x="1172" y="258" width="22" height="26" rx="3"/><rect x="1212" y="258" width="22" height="26" rx="3"/><rect x="1250" y="258" width="22" height="26" rx="3"/><rect x="1288" y="258" width="22" height="26" rx="3"/>
    </g>
    <!-- colour keys -->
    <rect x="1322" y="134" width="24" height="28" rx="3" fill="#4aa6dc"/>
    <rect x="1322" y="174" width="24" height="28" rx="3" fill="#f2d24a" stroke="#d9b030" stroke-width="3"/>
    <rect x="1322" y="216" width="24" height="28" rx="3" fill="#1f9a50"/>
    <rect x="1322" y="258" width="24" height="28" rx="3" fill="#d0252f"/>
  </g>
</g>

<!-- ===== IR emitter (local coords = px of 6.665x zoom; origin 0,420) ===== -->
<radialGradient id="emBall" cx="0.42" cy="0.42" r="0.62">
  <stop offset="0" stop-color="#6e2e40"/><stop offset="0.3" stop-color="#521a2a"/><stop offset="0.75" stop-color="#36101a"/><stop offset="1" stop-color="#240a10"/>
</radialGradient>
<g id="emitter">
  <g transform="translate(0 420) scale(0.15004)">
    <g fill="none" stroke="#858585" stroke-width="24" stroke-linecap="butt">
      <path d="M552 320Q643 262 733 320"/>
      <path d="M574 358Q643 312 711 358"/>
      <path d="M600 394Q643 362 685 394"/>
    </g>
    <path d="M770 548L972 538Q980 560 974 582L770 590Z" fill="#37373b"/>
    <path d="M790 556L968 548" stroke="#77777b" stroke-width="7" fill="none"/>
    <circle cx="657" cy="570" r="139" fill="#514450"/>
    <circle cx="657" cy="570" r="134" fill="none" stroke="#43384a" stroke-width="12" stroke-dasharray="10 8" opacity=".7"/>
    <circle cx="657" cy="570" r="119" fill="#cfc3ca"/>
    <circle cx="662" cy="572" r="103" fill="url(#emBall)"/>
    <path d="M590 560Q592 500 640 482" stroke="#f1e6eb" stroke-width="30" fill="none" opacity=".8" stroke-linecap="round"/>
    <path d="M592 600Q606 640 640 656" stroke="#e3d2d9" stroke-width="18" fill="none" opacity=".6" stroke-linecap="round"/>
    <circle cx="670" cy="565" r="14" fill="#b86a7c" opacity=".8"/>
  </g>
</g>

<!-- ===== DVD player (local coords = px of 7.86x zoom; origin 0,320) ===== -->
<linearGradient id="dvdTop" x1="0" y1="0" x2="1" y2="1">
  <stop offset="0" stop-color="#060606"/><stop offset="0.5" stop-color="#0c0a0a"/><stop offset="1" stop-color="#1c1c1e"/>
</linearGradient>
<linearGradient id="dvdFront" x1="0" y1="0" x2="1" y2="0">
  <stop offset="0" stop-color="#202022"/><stop offset="0.3" stop-color="#111113"/><stop offset="0.9" stop-color="#0d0d0e"/><stop offset="0.945" stop-color="#2b2b2e"/><stop offset="0.975" stop-color="#8a8a8e"/><stop offset="1" stop-color="#2a2a2c"/>
</linearGradient>
<linearGradient id="dvdTray" x1="0" y1="0" x2="1" y2="0">
  <stop offset="0" stop-color="#1e1e20"/><stop offset="0.3" stop-color="#2c2c30"/><stop offset="0.6" stop-color="#38383c"/><stop offset="0.7" stop-color="#131315"/><stop offset="1" stop-color="#0f0f10"/>
</linearGradient>
<linearGradient id="dvdRef" x1="0" y1="0" x2="0" y2="1">
  <stop offset="0" stop-color="#b9b9b9"/><stop offset="0.25" stop-color="#dedede"/><stop offset="1" stop-color="#fbfbfb"/>
</linearGradient>
<g id="dvd">
  <g transform="translate(0 320) scale(0.12723)">
    <rect x="78" y="50" width="1434" height="760" fill="#fcfcfc"/>
    <path d="M96 690H1420Q1490 688 1512 660V800H96Z" fill="url(#dvdRef)"/>
    <path d="M95 532L282 362H1338Q1360 362 1376 376L1512 492V520L1400 540Z" fill="url(#dvdTop)"/>
    <path d="M95 530H1390Q1490 530 1516 494V652Q1500 692 1400 692H95Z" fill="url(#dvdFront)"/>
    <path d="M98 532H1400Q1470 528 1510 500" stroke="#4a4a4e" stroke-width="5" fill="none"/>
    <rect x="146" y="569" width="820" height="90" fill="url(#dvdTray)" stroke="#66666a" stroke-width="4"/>
    <path d="M600 572L700 572L560 657L470 657Z" fill="#fff" opacity=".10"/>
    <ellipse cx="556" cy="606" rx="40" ry="14" fill="#c5d2f2"/>
    <ellipse cx="556" cy="606" rx="28" ry="8" fill="#2c4fae"/>
    <rect x="512" y="626" width="88" height="8" fill="#9fb4e6"/>
    <ellipse cx="1262" cy="482" rx="92" ry="24" fill="#262628"/>
    <ellipse cx="1262" cy="486" rx="92" ry="24" fill="none" stroke="#4c4c50" stroke-width="5"/>
    <ellipse cx="1395" cy="488" rx="40" ry="12" fill="#2a2a2c"/>
    <rect x="1236" y="600" width="130" height="8" fill="#6b3a1a" opacity=".7"/>
    <rect x="1270" y="642" width="40" height="16" rx="6" fill="#2f2f33"/>
  </g>
</g>

<!-- ===== LAN switch (local coords = px of 7.486x zoom; origin 590,320) ===== -->
<linearGradient id="swTop" x1="0" y1="1" x2="1" y2="0">
  <stop offset="0" stop-color="#1b1b1c"/><stop offset="0.28" stop-color="#2e2e2f"/><stop offset="0.48" stop-color="#5c5c5e"/><stop offset="0.62" stop-color="#444446"/><stop offset="0.78" stop-color="#2c2c2d"/><stop offset="0.9" stop-color="#6a6a6c"/><stop offset="1" stop-color="#c8c8ca"/>
</linearGradient>
<linearGradient id="swFace" x1="0" y1="0" x2="1" y2="0">
  <stop offset="0" stop-color="#c9c9c9"/><stop offset="0.2" stop-color="#ededed"/><stop offset="0.7" stop-color="#f4f4f4"/><stop offset="1" stop-color="#dcdcdc"/>
</linearGradient>
<g id="lansw">
  <g transform="translate(590 320) scale(0.13358)">
    <path d="M128 440L1130 358L1422 440L325 540Z" fill="url(#swTop)"/>
    <path d="M128 440L325 540L336 656L292 672L138 524Z" fill="#1b1b1c"/>
    <path d="M150 470L310 560L318 640" stroke="#3d3d3e" stroke-width="6" fill="none"/>
    <path d="M325 538L1422 440L1426 552L336 658Z" fill="#161617"/>
    <path d="M337 558L1412 460L1414 536L342 640Z" fill="url(#swFace)"/>
    <!-- logo -->
    <path d="M334 556L470 544L470 560L335 573Z" fill="#111"/>
    <!-- leds -->
    <g stroke="#c4c4c4" stroke-width="6" fill="none">
      <path d="M770 548V600M792 546V598M814 544V596M836 542V594"/>
    </g>
    <!-- ports -->
    <g fill="#111112">
      <path d="M912 510L1050 497V530L912 543Z"/>
      <path d="M912 552L1050 539V572L912 585Z"/>
      <path d="M1076 494L1206 482V515L1076 527Z"/>
      <path d="M1076 536L1206 524V556L1076 569Z"/>
      <path d="M1232 480L1356 469V502L1232 513Z"/>
      <path d="M1232 522L1356 510V542L1232 554Z"/>
    </g>
    <g stroke="#ededed" stroke-width="7" fill="none" opacity=".9">
      <path d="M947 505V585M982 502V582M1016 498V578"/>
      <path d="M1109 490V570M1141 487V567M1174 484V564"/>
      <path d="M1263 476V556M1294 473V553M1325 470V550"/>
    </g>
    <g stroke="#f1f1f1" stroke-width="6" fill="none">
      <path d="M908 547L1054 534M1072 531L1210 519M1228 517L1360 506"/>
    </g>
  </g>
</g>

</defs>
<rect width="1572" height="800" fill="#fff"/>

<!-- ===== title ===== -->
<text class="ttl" x="-5.4 24.1 50.1 77.2 104 128 151.4 168.2 180 208" y="30.2" font-size="42" stroke="#000" stroke-width="0.6">Connection</text>

<!-- ===== displays ===== -->
<use href="#tv" x="0" y="0"/>
<use href="#tv" x="0" y="275.7"/>
<use href="#tv" x="0" y="555.7"/>
<!-- ===== extender boxes ===== -->
<g filter="url(#soft)">
<use href="#tx" x="0" y="0"/>
<use href="#rx" x="0" y="0"/>
<use href="#rx" x="0" y="281.7"/>
<use href="#rx" x="-3.5" y="565"/>
</g>
<!-- ===== source, switch, remotes ===== -->
<g filter="url(#soft)">
<use href="#dvd" x="0" y="0"/>
<use href="#emitter" x="0" y="0"/>
<use href="#lansw" x="0" y="0"/>
<use href="#irset" x="0" y="0"/>
<use href="#irset" x="0" y="281.3"/>
<use href="#irset" x="0" y="545.6"/>
</g>
<!-- ===== connector lines ===== -->
<g id="wires">
  <!-- DVD -> TX -->
  <path class="ln" d="M188 375.2H271"/>
  <path class="ah" d="M264 368.6L271.6 375.3L264 382.8"/>
  <!-- TX -> switch -->
  <path class="ln" d="M446.5 390.5H596.5"/>
  <path class="ah" d="M589 383.3L597.3 390.5L589 397.7"/>
  <!-- trunk -->
  <path class="ln" d="M1054 99.1H825A35.5 34 0 0 0 789.5 133.1V644.9A35.5 33 0 0 0 825 677.9H1046.5"/>
  <path class="ln" d="M789.5 388.7H1052.5"/>
  <path class="ah2" d="M1045.2 89L1055.8 99.2L1045.2 109.8"/>
  <path class="ah2" d="M1043.5 378.6L1054.2 388.8L1043.5 399.3"/>
  <path class="ah2" d="M1037.2 667.2L1048.1 678L1037.2 688.3"/>
  <!-- TX IR loop -->
  <path class="ln" d="M357.4 418V481.8A22 22 0 0 1 335.4 503.8H146"/>
  <path class="ah" d="M278.2 496.7L270 503.8L278.2 511.3"/>
  <!-- up arrow to DVD -->
  <path class="ln" d="M96.8 455.7V426.5"/>
  <path class="ah" d="M88.8 434.3L96.8 425.9L104.7 434.3"/>
  <!-- RX -> TV -->
  <path class="ln" d="M1246 111H1330"/>
  <path class="ah" d="M1322.6 105.1L1330.6 111.3L1322.6 117.9"/>
  <path class="ln" d="M1246 386.9H1330"/>
  <path class="ah" d="M1322.6 380.3L1330.6 387L1322.6 394"/>
  <path class="ln" d="M1246 666.9H1330"/>
  <path class="ah" d="M1322.6 660.3L1330.6 667L1322.6 674"/>
  <!-- RX IR loops -->
  <path class="ln" d="M1140.3 130.6V208.5A20 20 0 0 0 1160.3 228.5H1262"/>
  <path class="ah" d="M1217.2 221.5L1208.5 228.5L1217.2 235.7"/>
  <path class="ln" d="M1140.3 412V490A20 20 0 0 0 1160.3 510H1262"/>
  <path class="ah" d="M1217.2 503L1208.5 510L1217.2 517.2"/>
  <path class="ln" d="M1140.5 701.4V755.7A19 19 0 0 0 1159.5 774.7H1262"/>
  <path class="ah" d="M1216.8 767.5L1209.2 774.7L1216.8 781"/>
</g>

<!-- ===== labels ===== -->
<g id="labels">
  <text class="lbl d" x="82.6" y="346.7" font-size="17" textLength="36" lengthAdjust="spacingAndGlyphs">DVD</text>
  <text class="lbl d" x="353.3" y="324.4" font-size="17" textLength="19" lengthAdjust="spacingAndGlyphs">TX</text>
  <text class="lbl" x="187" y="371" font-size="13.5" textLength="73.5" lengthAdjust="spacing">HDMI cable</text>
  <text class="lbl" x="467" y="382.8" font-size="15.6" textLength="108.5" lengthAdjust="spacing">Ethernet cable</text>
  <text class="lbl d" x="646.6" y="351.8" font-size="16.8" textLength="98.4" lengthAdjust="spacingAndGlyphs">LAN SWITCH</text>
  <text class="lbl" x="857.4" y="91.1" font-size="20" textLength="140.5" lengthAdjust="spacing">Ethernet cable</text>
  <text class="lbl" x="857.4" y="379.1" font-size="20" textLength="140.5" lengthAdjust="spacing">Ethernet cable</text>
  <text class="lbl" x="857.4" y="669.3" font-size="20" textLength="140.5" lengthAdjust="spacing">Ethernet cable</text>
  <text class="lbl d" x="1144" y="49.1" font-size="16.5" textLength="20.2" lengthAdjust="spacingAndGlyphs">RX</text>
  <text class="lbl d" x="1144.5" y="330.8" font-size="16.5" textLength="20.2" lengthAdjust="spacingAndGlyphs">RX</text>
  <text class="lbl d" x="1140.7" y="614.3" font-size="16.5" textLength="20.2" lengthAdjust="spacingAndGlyphs">RX</text>
  <text class="lbl" x="1246.5" y="103.7" font-size="13.5" textLength="74" lengthAdjust="spacing">HDMI cable</text>
  <text class="lbl" x="1246.5" y="383.3" font-size="13.5" textLength="74" lengthAdjust="spacing">HDMI cable</text>
  <text class="lbl" x="1246.5" y="663.3" font-size="13.5" textLength="74" lengthAdjust="spacing">HDMI cable</text>
  <text class="lbl e" x="1394.5" y="29.9" font-size="15" textLength="95" lengthAdjust="spacingAndGlyphs">HDMI Display</text>
  <text class="lbl e" x="1394.5" y="305.8" font-size="15" textLength="95" lengthAdjust="spacingAndGlyphs">HDMI Display</text>
  <text class="lbl e" x="1394.5" y="585.8" font-size="15" textLength="95" lengthAdjust="spacingAndGlyphs">HDMI Display</text>
</g>


</svg>
</body>
</html>
